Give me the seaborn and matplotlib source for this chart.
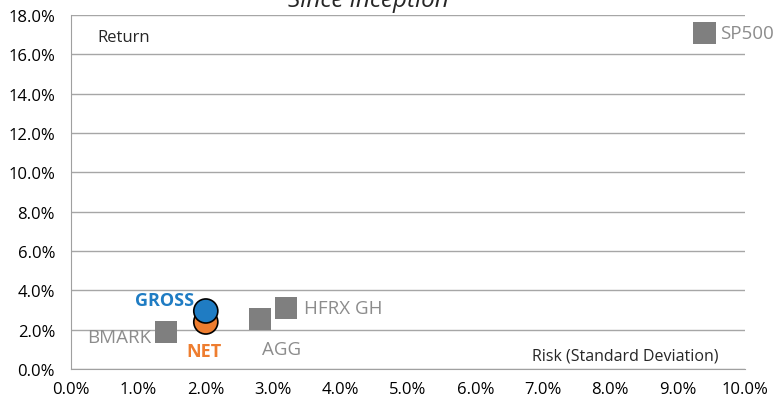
import pandas as pd
import seaborn as sns
import matplotlib.pyplot as plt
from matplotlib.ticker import PercentFormatter

# risk / return, in percent
bench_names = ['SP500', 'BMARK', 'AGG', 'HFRX GH']
bench_risk = [9.4, 1.41, 2.8, 3.19]
bench_return = [17.1, 1.88, 2.54, 3.1]

fund_names = ['GROSS', 'NET']
fund_risk = [2.0, 2.0]
fund_return = [2.95, 2.39]
fund_colors = ['#1F7CC3', '#EE7D2F']

sns.set_style('white')
plt.rcParams['font.family'] = ['Open Sans', 'DejaVu Sans']

bench = pd.DataFrame({'name': bench_names, 'risk': bench_risk, 'ret': bench_return})
funds = pd.DataFrame({'name': fund_names, 'risk': fund_risk, 'ret': fund_return})

fig = plt.figure(figsize=(7.76, 4.02), dpi=100)
ax = fig.add_axes([0.0915, 0.0796, 0.8685, 0.8806])

sns.scatterplot(data=bench, x='risk', y='ret', marker='s', s=260, color='#7F7F7F',
                edgecolor='none', ax=ax, zorder=3)
sns.scatterplot(data=funds.iloc[::-1], x='risk', y='ret', hue='name',
                palette=dict(zip(fund_names, fund_colors)), s=300,
                edgecolor='black', linewidth=1.2, legend=False, ax=ax, zorder=4)

gray = '#8C8C8C'
lbl = dict(fontsize=13.5, color=gray, textcoords='offset points', va='center')
ax.annotate('SP500', (9.4, 17.1), xytext=(11.5, 0), ha='left', **lbl)
ax.annotate('BMARK', (1.41, 1.88), xytext=(-11, -3.6), ha='right', **lbl)
ax.annotate('AGG', (2.8, 2.54), xytext=(16, -21.6), ha='center', **lbl)
ax.annotate('HFRX GH', (3.19, 3.1), xytext=(13, 0), ha='left', **lbl)
ax.annotate('GROSS', (2.0, 2.95), xytext=(-29.5, 8), textcoords='offset points', va='center', ha='center',
            fontsize=13, color=fund_colors[0], fontweight='bold')
ax.annotate('NET', (2.0, 2.39), xytext=(-1.5, -21), textcoords='offset points', va='center', ha='center',
            fontsize=13, color=fund_colors[1], fontweight='bold')

ax.set_xlim(0, 10)
ax.set_ylim(0, 18)
ax.set_xticks(range(0, 11))
ax.set_yticks(range(0, 19, 2))
ax.xaxis.set_major_formatter(PercentFormatter(decimals=1))
ax.yaxis.set_major_formatter(PercentFormatter(decimals=1))
ax.tick_params(axis='both', labelsize=12, colors='black', length=4.5, color='#A0A0A0', direction='out')
ax.tick_params(axis='y', pad=7)
ax.tick_params(axis='x', pad=4)
ax.yaxis.grid(True, color='#A6A6A6', linewidth=1)
ax.xaxis.grid(False)
ax.set_axisbelow(True)
for s in ['top', 'right']:
    ax.spines[s].set_visible(False)
for s in ['left', 'bottom']:
    ax.spines[s].set_color('#A0A0A0')
ax.set_xlabel('')
ax.set_ylabel('')

fig.text(97 / 776, 1 - 38 / 402, 'Return', fontsize=12, va='center', ha='left')
fig.text(718 / 776, 1 - 357 / 402, 'Risk (Standard Deviation)', fontsize=11.5, va='center', ha='right')
fig.text(368 / 776, 1 - 7 / 402, 'Since inception', fontstyle='italic', fontsize=17.5,
         va='baseline', ha='center')

fig.savefig('out.png', dpi=100)
